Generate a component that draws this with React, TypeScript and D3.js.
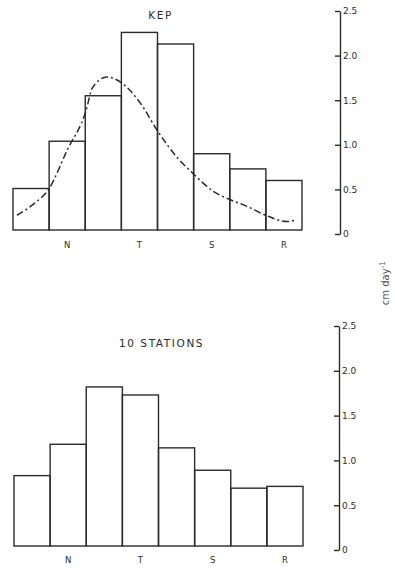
import React, { useEffect, useRef } from "react";
import * as d3 from "d3";

// bars: 8 classes, values in cm day^-1
const BAR_INDEX = [0, 1, 2, 3, 4, 5, 6, 7];
const KEP_VALUES = [0.51, 1.04, 1.55, 2.26, 2.13, 0.9, 0.73, 0.6];
const STATION_VALUES = [0.83, 1.18, 1.82, 1.73, 1.14, 0.89, 0.69, 0.71];

// dash-dot curve over the KEP histogram (position in class units, value)
const KEP_CURVE_POS = [0.11, 0.55, 1.0, 1.5, 2.02, 2.2, 2.6, 3.02, 3.52, 4.01, 4.54, 4.98, 5.54, 5.98, 6.48, 7.0, 7.58, 7.86];
const KEP_CURVE_VAL = [0.21, 0.33, 0.51, 0.94, 1.38, 1.64, 1.76, 1.69, 1.47, 1.15, 0.86, 0.68, 0.48, 0.39, 0.31, 0.21, 0.14, 0.16];

const X_LABELS = ["N", "T", "S", "R"];
const X_LABEL_AT = [1, 3, 5, 7];
const Y_TICKS = [0, 0.5, 1.0, 1.5, 2.0, 2.5];

const INK = "#2b2b2b";
const FONT = "'DejaVu Sans', sans-serif";

interface PanelSpec {
  title: string;
  values: number[];
  curve?: { pos: number[]; val: number[] };
  x0: number;
  x1: number;
  yZero: number;
  yTop: number;
  titleY: number;
  labelY: number;
  axisX: number;
}

const PANELS: PanelSpec[] = [
  {
    title: "KEP",
    values: KEP_VALUES,
    curve: { pos: KEP_CURVE_POS, val: KEP_CURVE_VAL },
    x0: 13,
    x1: 302,
    yZero: 234,
    yTop: 11,
    titleY: 19,
    labelY: 248,
    axisX: 340,
  },
  {
    title: "10 STATIONS",
    values: STATION_VALUES,
    x0: 14,
    x1: 303,
    yZero: 550,
    yTop: 326,
    titleY: 347,
    labelY: 563,
    axisX: 339,
  },
];

export default function App() {
  const svgRef = useRef<SVGSVGElement>(null);

  useEffect(() => {
    if (!svgRef.current) return;
    const svg = d3.select(svgRef.current);
    svg.selectAll("*").remove();

    PANELS.forEach((p) => {
      const g = svg.append("g");
      const x = d3
        .scaleBand<number>()
        .domain(BAR_INDEX)
        .range([p.x0, p.x1])
        .padding(0);
      const xLin = d3.scaleLinear().domain([0, 8]).range([p.x0, p.x1]);
      const y = d3.scaleLinear().domain([0, 2.5]).range([p.yZero, p.yTop]);
      // bars sit a little above the axis zero in the original drawing
      const base = p.yZero - 4;

      g.selectAll(".bar")
        .data(p.values)
        .join("rect")
        .attr("x", (_, i) => x(i)!)
        .attr("y", (d) => y(d))
        .attr("width", x.bandwidth())
        .attr("height", (d) => base - y(d))
        .attr("fill", "none")
        .attr("stroke", INK)
        .attr("stroke-width", 1.4);

      if (p.curve) {
        const pts = p.curve.pos.map((u, i) => [u, p.curve!.val[i]] as [number, number]);
        const line = d3
          .line<[number, number]>()
          .x((d) => xLin(d[0]))
          .y((d) => y(d[1]))
          .curve(d3.curveMonotoneX);
        g.append("path")
          .attr("d", line(pts))
          .attr("fill", "none")
          .attr("stroke", INK)
          .attr("stroke-width", 1.5)
          .attr("stroke-dasharray", "7,3,2,3");
      }

      g.append("text")
        .attr("x", (p.x0 + p.x1) / 2 + 3)
        .attr("y", p.titleY)
        .attr("text-anchor", "middle")
        .attr("font-family", FONT)
        .attr("font-size", 10.5)
        .attr("letter-spacing", 1.6)
        .attr("fill", INK)
        .text(p.title);

      g.selectAll(".xl")
        .data(X_LABELS)
        .join("text")
        .attr("x", (_, i) => x(X_LABEL_AT[i])! + x.bandwidth() / 2)
        .attr("y", p.labelY)
        .attr("text-anchor", "middle")
        .attr("font-family", FONT)
        .attr("font-size", 8.5)
        .attr("fill", INK)
        .text((d) => d);

      const axis = d3
        .axisRight(y)
        .tickValues(Y_TICKS)
        .tickSizeInner(-5)
        .tickSizeOuter(0)
        .tickPadding(3)
        .tickFormat((d) => (+d === 0 ? "0" : d3.format(".1f")(+d)));
      const ag = g
        .append("g")
        .attr("transform", `translate(${p.axisX},0)`)
        .call(axis);
      ag.selectAll("path, line").attr("stroke", INK).attr("stroke-width", 1.4);
      ag.selectAll("text")
        .attr("font-family", FONT)
        .attr("font-size", 9)
        .attr("fill", INK);
    });

    svg
      .append("text")
      .attr("transform", "translate(389,283) rotate(-90)")
      .attr("text-anchor", "middle")
      .attr("font-family", FONT)
      .attr("font-size", 10)
      .attr("fill", "#555")
      .text("cm day")
      .append("tspan")
      .attr("dy", -4)
      .attr("font-size", 7.5)
      .text("-1");
  }, []);

  return (
    <svg
      ref={svgRef}
      width={395}
      height={570}
      style={{ position: "absolute", left: 0, top: 0, background: "#fff" }}
    />
  );
}
